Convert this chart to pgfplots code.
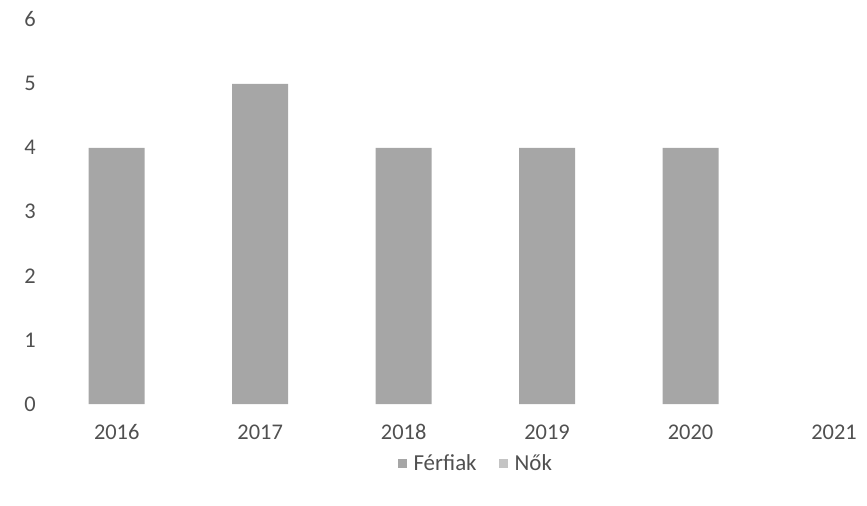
\documentclass[border=0pt]{standalone}
\usepackage{pgfplots}
\pgfplotsset{compat=1.18}
\usepackage{fontspec}
\setmainfont{Carlito}
\definecolor{barA}{RGB}{166,166,166}
\definecolor{barB}{RGB}{196,196,196}
\definecolor{txt}{RGB}{80,80,80}
\begin{document}
\begin{tikzpicture}
\useasboundingbox (-45bp,-102bp) rectangle (822bp,404bp);
\begin{axis}[
  at={(0,0)}, anchor=south west,
  scale only axis,
  width=822bp, height=384bp,
  xmin=-0.5, xmax=5.23,
  ymin=0, ymax=6,
  ybar stacked,
  bar width=56bp,
  axis line style={draw=none},
  tick style={draw=none},
  xtick={0,1,2,3,4,5},
  xticklabels={2016,2017,2018,2019,2020,2021},
  ytick={0,1,2,3,4,5,6},
  /pgf/number format/assume math mode=true,
  tick label style={font=\fontsize{22.5}{26}\selectfont, text=txt, text height=14bp, text depth=0bp},
  xticklabel style={anchor=north, yshift=-18bp},
  yticklabel style={anchor=center, xshift=-15bp},
  legend style={at={(axis description cs:0.524,-0.155)}, anchor=center, draw=none,
    legend columns=2, font=\fontsize{23}{26}\selectfont, text=txt,
    /tikz/every odd column/.append style={column sep=5bp},
    /tikz/every even column/.append style={column sep=20bp}},
  legend image code/.code={\fill[#1] (0bp,-4.5bp) rectangle (9bp,4.5bp);},
  clip=false,
]
\addplot[fill=barA, draw=none] coordinates {(0,4) (1,5) (2,4) (3,4) (4,4) (5,0)};
\addlegendentry{Férfiak}
\addplot[fill=barB, draw=none] coordinates {(0,0) (1,0) (2,0) (3,0) (4,0) (5,0)};
\addlegendentry{Nők}
\end{axis}
\end{tikzpicture}
\end{document}
